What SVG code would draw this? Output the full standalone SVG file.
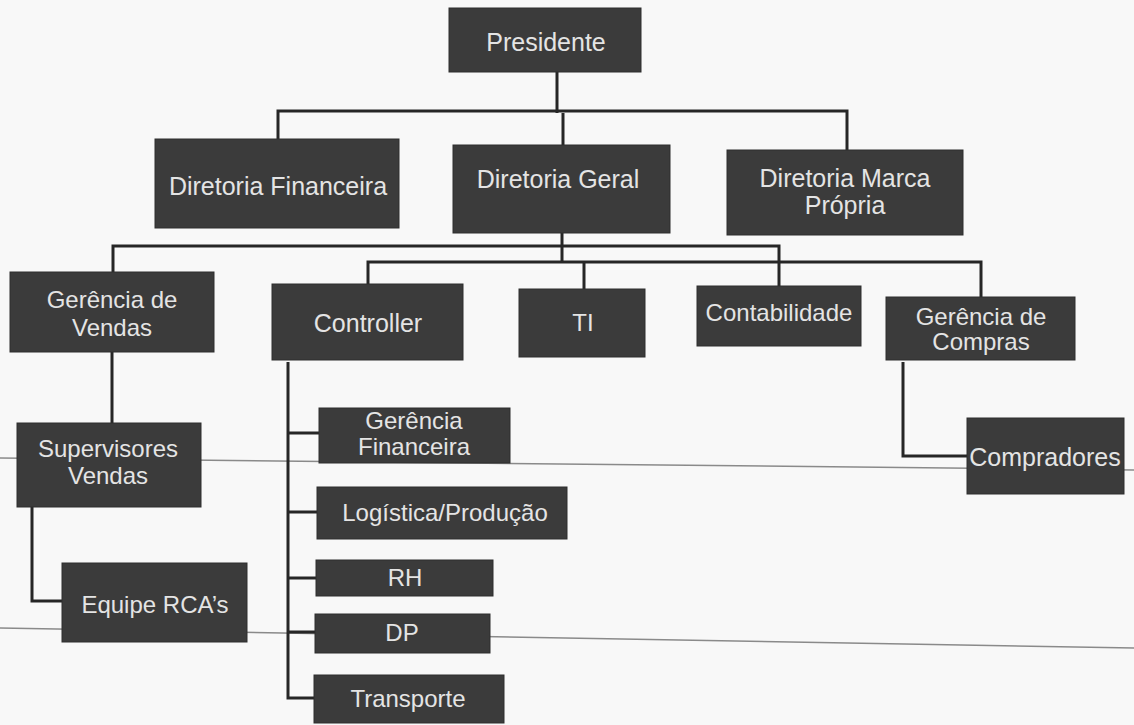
<svg xmlns="http://www.w3.org/2000/svg" width="1134" height="725" viewBox="0 0 1134 725">
<style>
.box{fill:#3b3b3b;stroke:#2e2e2e;stroke-width:1}
.t{font-family:"Liberation Sans",Arial,sans-serif;font-size:24px;fill:#e4e4e4;text-anchor:middle}
.big{font-size:25px}
.c{fill:none;stroke:#262626;stroke-width:3}
.scan{fill:none;stroke:#8a8a8a;stroke-width:1.5}
</style>
<rect x="0" y="0" width="1134" height="725" fill="#f8f8f8"/>
<g id="scan-lines">
<path class="scan" d="M0 458 L1134 470"/>
<path class="scan" d="M0 628 L1134 648"/>
</g>
<g id="connectors">
<path class="c" d="M557 72 V113"/>
<path class="c" d="M278 139 V111 H847 V150"/>
<path class="c" d="M563 113 V145"/>
<path class="c" d="M562 233 V262"/>
<path class="c" d="M113 272 V246 H779 V286"/>
<path class="c" d="M368 284 V262 H981 V297"/>
<path class="c" d="M584 262 V289"/>
<path class="c" d="M112 352 V423"/>
<path class="c" d="M32 507 V601 H62"/>
<path class="c" d="M288 362 V698 H314"/>
<path class="c" d="M288 433 H319"/>
<path class="c" d="M288 512 H317"/>
<path class="c" d="M288 578 H316"/>
<path class="c" d="M288 632 H315"/>
<path class="c" d="M903 362 V456 H967"/>
</g>
<g id="presidente"><rect class="box" x="449" y="8" width="192" height="64"/><text class="t big" x="546" y="51">Presidente</text></g>
<g id="diretoria-financeira"><rect class="box" x="155" y="139" width="244" height="89"/><text class="t big" x="278" y="195">Diretoria Financeira</text></g>
<g id="diretoria-geral"><rect class="box" x="453" y="145" width="217" height="88"/><text class="t big" x="558" y="188">Diretoria Geral</text></g>
<g id="diretoria-marca-propria"><rect class="box" x="727" y="150" width="236" height="85"/><text class="t big" x="845" y="187">Diretoria Marca</text><text class="t big" x="845" y="214">Própria</text></g>
<g id="gerencia-vendas"><rect class="box" x="10" y="272" width="204" height="80"/><text class="t" x="112" y="308">Gerência de</text><text class="t" x="112" y="336">Vendas</text></g>
<g id="controller"><rect class="box" x="272" y="284" width="191" height="76"/><text class="t big" x="368" y="332">Controller</text></g>
<g id="ti"><rect class="box" x="519" y="289" width="126" height="68"/><text class="t" x="583" y="331">TI</text></g>
<g id="contabilidade"><rect class="box" x="697" y="286" width="164" height="60"/><text class="t" x="779" y="321">Contabilidade</text></g>
<g id="gerencia-compras"><rect class="box" x="886" y="297" width="189" height="63"/><text class="t" x="981" y="325">Gerência de</text><text class="t" x="981" y="350">Compras</text></g>
<g id="supervisores-vendas"><rect class="box" x="17" y="423" width="184" height="84"/><text class="t" x="108" y="457">Supervisores</text><text class="t" x="108" y="484">Vendas</text></g>
<g id="gerencia-financeira"><rect class="box" x="319" y="408" width="191" height="55"/><text class="t" x="414" y="429">Gerência</text><text class="t" x="414" y="455">Financeira</text></g>
<g id="logistica-producao"><rect class="box" x="317" y="487" width="250" height="52"/><text class="t" x="445" y="521">Logística/Produção</text></g>
<g id="rh"><rect class="box" x="316" y="560" width="177" height="36"/><text class="t" x="405" y="586">RH</text></g>
<g id="dp"><rect class="box" x="315" y="614" width="175" height="39"/><text class="t" x="402" y="641">DP</text></g>
<g id="transporte"><rect class="box" x="314" y="675" width="190" height="48"/><text class="t" x="408" y="707">Transporte</text></g>
<g id="equipe-rcas"><rect class="box" x="62" y="563" width="185" height="79"/><text class="t" x="155" y="613">Equipe RCA’s</text></g>
<g id="compradores"><rect class="box" x="967" y="418" width="157" height="76"/><text class="t big" x="1045" y="466">Compradores</text></g>
</svg>
